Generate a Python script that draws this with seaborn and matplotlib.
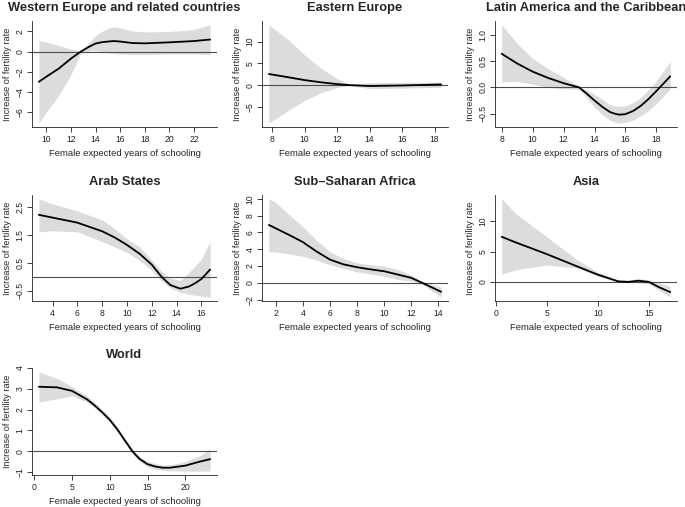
import matplotlib
matplotlib.use("Agg")
import matplotlib.pyplot as plt
import seaborn as sns

sns.set_style("ticks")
plt.rcParams["font.family"] = ["Liberation Sans", "DejaVu Sans"]

# ---------- data ----------
# Western Europe and related countries
we_x = [9.4, 10, 11, 12, 12.8, 13.5, 14, 14.5, 15, 15.5, 16, 17, 18, 20, 22, 23.3]
we_fit = [-3.0, -2.5, -1.7, -0.7, 0.0, 0.5, 0.8, 0.93, 1.0, 1.05, 1.0, 0.85, 0.82, 0.92, 1.05, 1.2]
we_hi = [1.1, 0.95, 0.6, 0.25, 0.05, 0.9, 1.6, 2.0, 2.3, 2.45, 2.35, 2.05, 1.95, 2.0, 2.2, 2.65]
we_lo = [-7.1, -6.0, -4.4, -2.3, -0.2, 0.1, 0.1, 0.0, -0.1, -0.2, -0.25, -0.3, -0.3, -0.25, -0.25, -0.3]

# Eastern Europe
ee_x = [7.8, 9, 10, 11, 12, 12.8, 14, 16, 18.4]
ee_fit = [2.55, 1.8, 1.15, 0.65, 0.23, 0.0, -0.2, -0.08, 0.15]
ee_hi = [13.8, 10.4, 6.9, 3.9, 1.5, 0.1, 0.6, 0.6, 0.7]
ee_lo = [-8.7, -5.8, -3.5, -1.8, -0.5, -0.1, -0.8, -0.7, -0.5]

# Latin America and the Caribbean
la_x = [8, 9, 10, 11, 12, 13, 13.5, 14, 14.5, 15, 15.3, 15.6, 16, 16.5, 17, 17.5, 18, 18.9]
la_fit = [0.64, 0.455, 0.30, 0.18, 0.08, 0.0, -0.12, -0.25, -0.37, -0.47, -0.50, -0.52, -0.51,
          -0.45, -0.35, -0.22, -0.07, 0.21]
la_hi = [1.19, 0.84, 0.55, 0.36, 0.19, 0.02, -0.05, -0.13, -0.23, -0.33, -0.35, -0.36, -0.35,
         -0.29, -0.19, -0.04, 0.13, 0.49]
la_lo = [0.10, 0.115, 0.06, 0.0, -0.03, -0.03, -0.2, -0.38, -0.52, -0.63, -0.66, -0.68, -0.67,
         -0.62, -0.54, -0.44, -0.31, -0.03]

# Arab States
ar_x = [2.9, 4, 6, 8, 9, 10, 11, 12, 12.8, 13.5, 14.3, 15, 15.5, 16, 16.7]
ar_fit = [2.23, 2.13, 1.95, 1.64, 1.42, 1.15, 0.84, 0.44, 0.0, -0.29, -0.42, -0.34, -0.22, -0.07, 0.27]
ar_hi = [2.8, 2.62, 2.37, 2.05, 1.73, 1.37, 1.09, 0.6, 0.2, -0.05, -0.12, 0.17, 0.4, 0.66, 1.27]
ar_lo = [1.62, 1.66, 1.62, 1.27, 1.08, 0.88, 0.6, 0.23, -0.15, -0.4, -0.55, -0.62, -0.66, -0.69, -0.72]

# Sub-Saharan Africa
ss_x = [1.5, 2, 3, 4, 5, 6, 7, 8, 9, 10, 11, 12, 12.8, 14.2]
ss_fit = [6.9, 6.5, 5.7, 4.86, 3.75, 2.77, 2.2, 1.86, 1.6, 1.38, 0.99, 0.59, 0.0, -1.07]
ss_hi = [10.0, 9.6, 8.1, 6.7, 5.1, 3.7, 2.9, 2.37, 2.15, 1.98, 1.58, 0.91, 0.2, -0.51]
ss_lo = [3.68, 3.68, 3.45, 3.16, 2.7, 2.17, 1.7, 1.3, 1.05, 0.79, 0.4, 0.2, -0.2, -1.7]

# Asia
as_x = [0.6, 2, 5, 8, 10, 12, 13, 14, 15, 16, 17.1]
as_fit = [7.45, 6.5, 4.6, 2.55, 1.2, 0.1, 0.0, 0.2, 0.0, -0.87, -1.68]
as_hi = [13.7, 11.25, 7.45, 3.64, 1.63, 0.22, 0.35, 0.54, 0.38, -0.16, -0.7]
as_lo = [1.3, 2.0, 2.8, 2.3, 0.95, -0.05, -0.1, -0.15, -0.33, -1.41, -2.5]

# World
wo_x = [0.6, 3, 5, 7, 8, 9, 10, 11, 12, 12.5, 13, 13.5, 14, 15, 16, 17, 18, 20, 22, 23.3]
wo_fit = [3.1, 3.07, 2.9, 2.49, 2.2, 1.87, 1.51, 1.05, 0.52, 0.26, 0.0, -0.2, -0.38, -0.62,
          -0.73, -0.79, -0.79, -0.69, -0.49, -0.38]
wo_hi = [3.8, 3.5, 3.11, 2.66, 2.35, 2.0, 1.62, 1.18, 0.62, 0.37, 0.11, -0.09, -0.28, -0.49,
         -0.59, -0.66, -0.65, -0.5, -0.2, 0.11]
wo_lo = [2.36, 2.52, 2.66, 2.36, 2.08, 1.75, 1.4, 0.93, 0.4, 0.14, -0.13, -0.32, -0.5, -0.75,
         -0.86, -0.92, -0.94, -0.95, -0.95, -0.95]

titles = ["Western Europe and related countries", "Eastern Europe",
          "Latin America and the Caribbean", "Arab States",
          "Sub\u2013Saharan Africa", "Asia", "World"]

xticks = [[10, 12, 14, 16, 18, 20, 22], [8, 10, 12, 14, 16, 18], [8, 10, 12, 14, 16, 18],
          [4, 6, 8, 10, 12, 14, 16], [2, 4, 6, 8, 10, 12, 14], [0, 5, 10, 15],
          [0, 5, 10, 15, 20]]
yticks = [[-6, -4, -2, 0, 2], [-5, 0, 5, 10], [-0.5, 0.0, 0.5, 1.0],
          [-0.5, 0.5, 1.5, 2.5], [-2, 0, 2, 4, 6, 8, 10], [0, 5, 10],
          [-1, 0, 1, 2, 3, 4]]

panels = [(we_x, we_fit, we_lo, we_hi), (ee_x, ee_fit, ee_lo, ee_hi),
          (la_x, la_fit, la_lo, la_hi), (ar_x, ar_fit, ar_lo, ar_hi),
          (ss_x, ss_fit, ss_lo, ss_hi), (as_x, as_fit, as_lo, as_hi),
          (wo_x, wo_fit, wo_lo, wo_hi)]

# ---------- layout (pixels) ----------
W, H = 685, 507
cols = [(32, 217), (262, 448), (495, 677)]
rows = [(21, 127), (195, 301), (368, 475)]

fig = plt.figure(figsize=(6.85, 5.07), dpi=100)

for i, (x, fit, lo, hi) in enumerate(panels):
    c0, c1 = cols[i % 3]
    r0, r1 = rows[i // 3]
    ax = fig.add_axes([c0 / W, 1 - r1 / H, (c1 - c0) / W, (r1 - r0) / H])

    ax.fill_between(x, lo, hi, color="#dcdcdc", lw=0)
    ax.axhline(0, color="#4d4d4d", lw=0.8)
    sns.lineplot(x=x, y=fit, ax=ax, color="black", lw=1.3)

    # R-style 4% padding
    xmin, xmax = min(x), max(x)
    ymin, ymax = min(lo), max(hi)
    px, py = 0.04 * (xmax - xmin), 0.04 * (ymax - ymin)
    ax.set_xlim(xmin - px, xmax + px)
    ax.set_ylim(ymin - py, ymax + py)

    ax.set_xticks(xticks[i])
    ax.set_yticks(yticks[i])
    if i in (2, 3):
        ax.set_yticklabels([f"{v:.1f}".replace("-", "\u2212") for v in yticks[i]])
    ax.tick_params(length=3.5, width=0.6, pad=2, labelsize=6.2, colors="#222222")
    for lab in ax.get_yticklabels():
        lab.set_rotation(90)
        lab.set_va("center")

    for s in ["top", "right"]:
        ax.spines[s].set_visible(False)
    for s in ["left", "bottom"]:
        ax.spines[s].set_linewidth(0.6)
        ax.spines[s].set_color("#222222")

    ax.set_title(titles[i], fontsize=9.3, fontweight="bold", pad=7)
    ax.set_xlabel("Female expected years of schooling", fontsize=6.8, labelpad=4)
    ax.set_ylabel("Increase of fertility rate", fontsize=6.6, labelpad=2.5)

fig.savefig("out.png", dpi=100)
